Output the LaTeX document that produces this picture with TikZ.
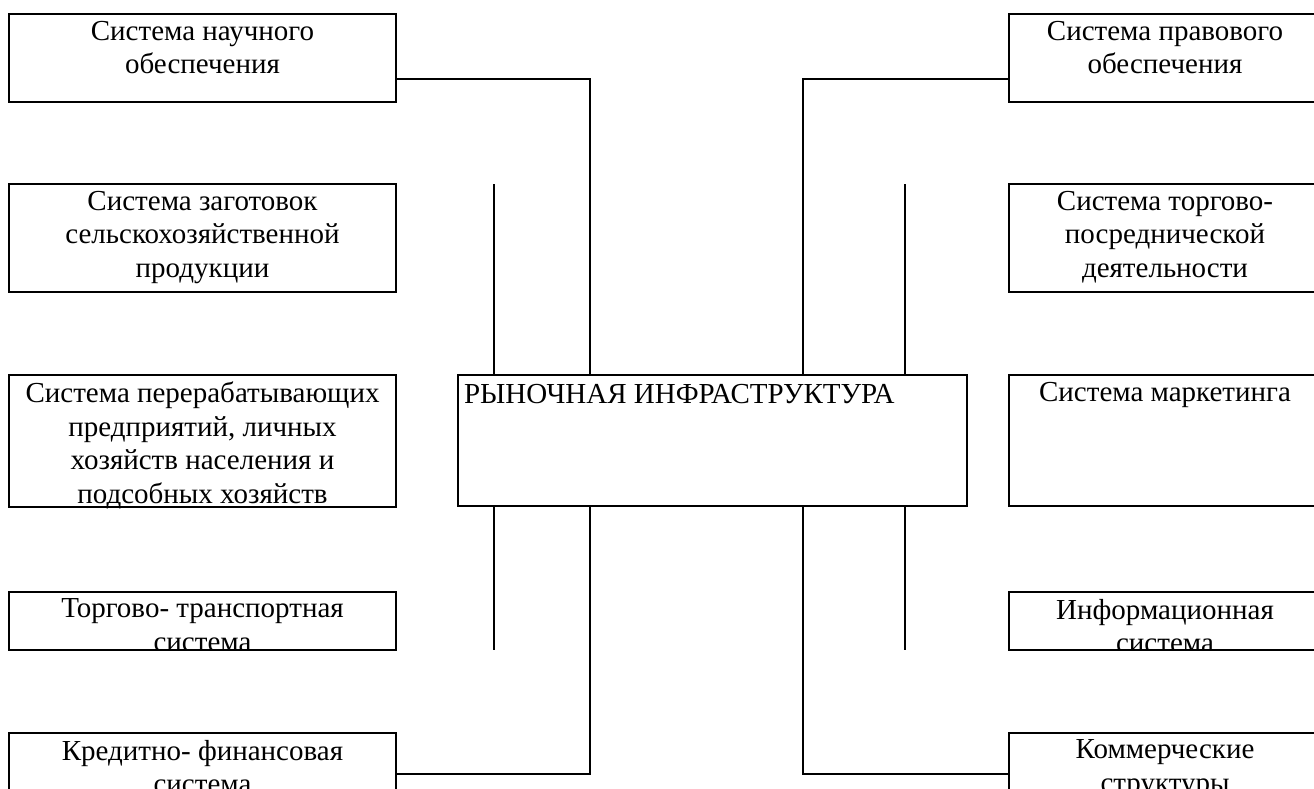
\documentclass[tikz,border=0pt]{standalone}
\usepackage{fontspec}
\setmainfont{Liberation Serif}

\begin{document}
\begin{tikzpicture}[x=1pt, y=-1pt, line width=2pt,
        box/.style = {draw, rectangle, anchor=north west, inner sep=0pt, outer sep=0pt},
        lbox/.style = {box, minimum width=387pt},
        rbox/.style = {box, minimum width=312pt},
        txt/.style = {anchor=north, align=center, inner sep=0pt, font=\fontsize{29}{33.5}\selectfont}]
        \useasboundingbox (0,0) rectangle (1314,789);
        \clip (0,0) rectangle (1314,789);
        \node[lbox, minimum height=88pt]  (l1) at (9,14)   {};
        \node[lbox, minimum height=108pt] (l2) at (9,184)  {};
        \node[lbox, minimum height=132pt] (l3) at (9,375)  {};
        \node[lbox, minimum height=58pt]  (l4) at (9,592)  {};
        \node[lbox, minimum height=82pt]  (l5) at (9,733)  {};
        \node[rbox, minimum height=88pt]  (r1) at (1009,14)  {};
        \node[rbox, minimum height=108pt] (r2) at (1009,184) {};
        \node[rbox, minimum height=131pt] (r3) at (1009,375) {};
        \node[rbox, minimum height=58pt]  (r4) at (1009,592) {};
        \node[rbox, minimum height=82pt]  (r5) at (1009,733) {};
        \node[box, minimum width=509pt, minimum height=131pt] (c) at (458,375) {};
        \node[txt, anchor=north west] (ct) at ([xshift=5pt, yshift=-8pt]c.north west) {РЫНОЧНАЯ ИНФРАСТРУКТУРА};
        \node[txt] (l1t) at ([yshift=-6pt]l1.north) {Система научного\\обеспечения};
        \node[txt] (l2t) at ([yshift=-6pt]l2.north) {Система заготовок\\сельскохозяйственной\\продукции};
        \node[txt] (l3t) at ([yshift=-6pt]l3.north) {Система перерабатывающих\\предприятий, личных\\хозяйств населения и\\подсобных хозяйств};
        \node[txt] (l5t) at ([yshift=-6pt]l5.north) {Кредитно- финансовая\\система};
        \node[txt] (r1t) at ([yshift=-6pt]r1.north) {Система правового\\обеспечения};
        \node[txt] (r2t) at ([yshift=-6pt]r2.north) {Система торгово-\\посреднической\\деятельности};
        \node[txt] (r3t) at ([yshift=-6pt]r3.north) {Система маркетинга};
        \node[txt] (r5t) at ([yshift=-6pt]r5.north) {Коммерческие\\структуры};
        \begin{scope}
            \clip (l4.north west) rectangle (l4.south east);
            \node[txt] (l4t) at ([yshift=-6pt]l4.north) {Торгово- транспортная\\система};
        \end{scope}
        \begin{scope}
            \clip (r4.north west) rectangle (r4.south east);
            \node[txt] (r4t) at ([yshift=-6pt]r4.north) {Информационная\\система};
        \end{scope}
        \coordinate (lv) at (590,79);
        \coordinate (rv) at (803,79);
        \coordinate (ls) at (494,0);
        \coordinate (rs) at (905,0);
        \draw (l1.east |- lv) -- (lv) -- (lv |- c.north);
        \draw (l5.east) -- (lv |- l5.east) -- (lv |- c.south);
        \draw (ls |- l2.north) -- (ls |- c.north);
        \draw (ls |- c.south) -- (ls |- l4.south);
        \draw (r1.west |- rv) -- (rv) -- (rv |- c.north);
        \draw (r5.west) -- (rv |- r5.west) -- (rv |- c.south);
        \draw (rs |- r2.north) -- (rs |- c.north);
        \draw (rs |- c.south) -- (rs |- r4.south);
    \end{tikzpicture}
\end{document}
